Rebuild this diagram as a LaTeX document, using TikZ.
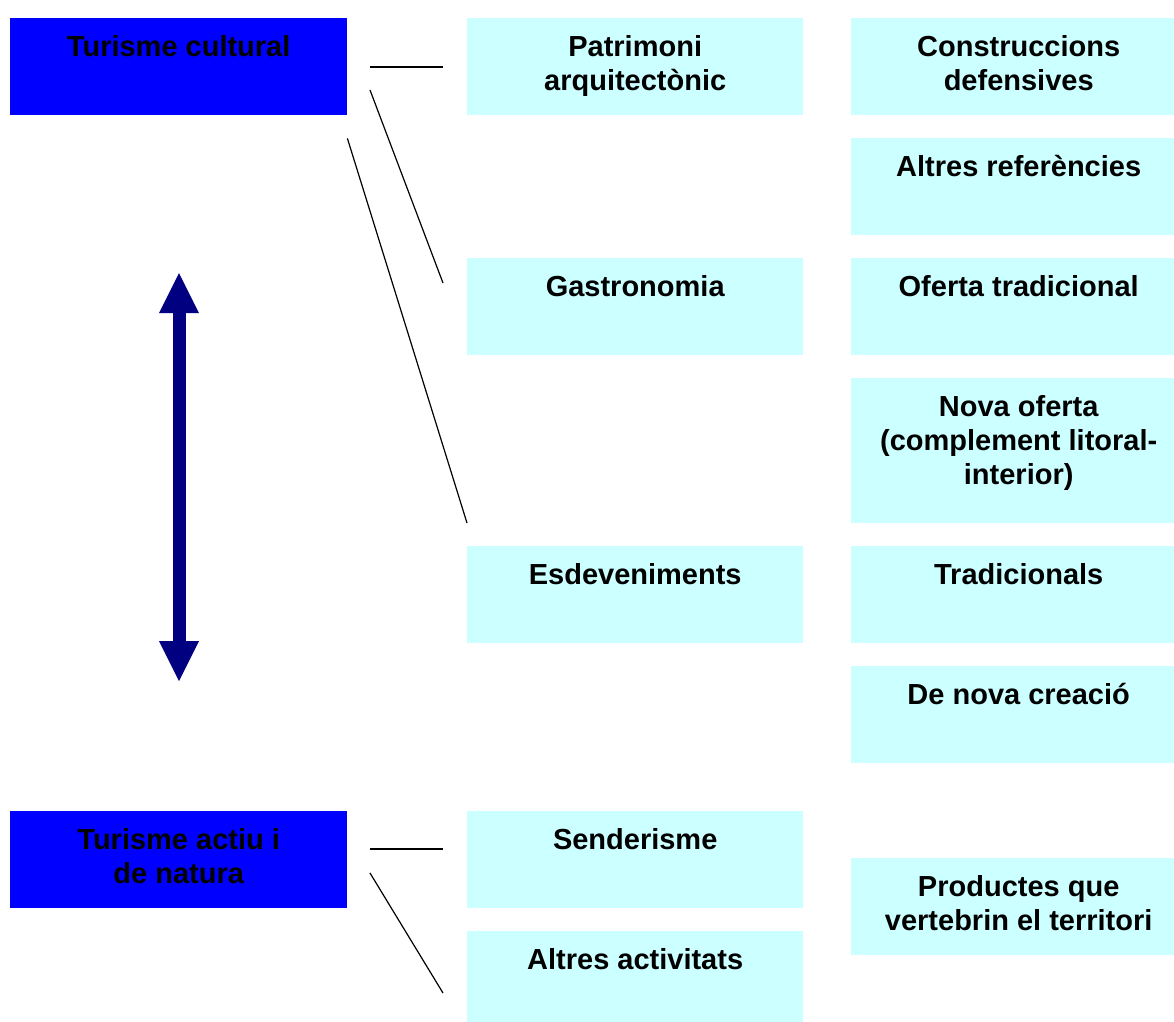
\documentclass[tikz,border=0pt]{standalone}
\usepackage{fontspec}
\setmainfont{Liberation Sans}
\usepackage{xcolor}
\usepackage{tikz}
\usetikzlibrary{arrows.meta,positioning}

\definecolor{themeblue}{RGB}{0,0,255}
\definecolor{lightcyan}{RGB}{204,255,255}
\definecolor{arrownavy}{RGB}{0,0,128}

\begin{document}
\begin{tikzpicture}[x=1pt,y=-1pt,
    box/.style={anchor=north west,inner sep=0pt,minimum height=97pt},
    mainbox/.style={box,fill=themeblue,minimum width=337pt},
    midbox/.style={box,fill=lightcyan,minimum width=336pt},
    rightbox/.style={box,fill=lightcyan,minimum width=323pt},
    boxtext/.style={anchor=north,inner sep=0pt,align=center,
        font=\bfseries\fontsize{29}{34}\selectfont},
    link/.style={line width=1.2pt},
    bigarrow/.style={arrownavy,line width=13pt,
        {Triangle[length=40pt,width=40pt,line width=0pt]}-{Triangle[length=40pt,width=40pt,line width=0pt]}}]

\useasboundingbox (0,0) rectangle (1174,1021);

% left column
\node[mainbox] (cultural) at (10,18) {};
\node[mainbox] (actiu) at (10,811) {};

% middle column
\node[midbox] (patrimoni) at (467,18) {};
\node[midbox] (gastro) at (467,258) {};
\node[midbox] (esdev) at (467,546) {};
\node[midbox] (sender) at (467,811) {};
\node[midbox] (altres) at (467,931) {};

% right column
\node[rightbox] (defensives) at (851,18) {};
\node[rightbox] (referencies) at (851,138) {};
\node[rightbox] (oferta) at (851,258) {};
\node[rightbox,minimum height=145pt] (novaoferta) at (851,378) {};
\node[rightbox] (tradicionals) at (851,546) {};
\node[rightbox] (novacreacio) at (851,666) {};
\node[rightbox] (productes) at (851,858) {};

% texts
\foreach \b/\t in {cultural/{Turisme cultural},
                   actiu/{Turisme actiu i\\de natura},
                   patrimoni/{Patrimoni\\arquitectònic},
                   gastro/Gastronomia,
                   esdev/Esdeveniments,
                   sender/Senderisme,
                   altres/{Altres activitats}}
    \node[boxtext] (\b-txt) at ([yshift=-17pt]\b.north) {\t};

\foreach \b/\t in {defensives/{Construccions\\defensives},
                   referencies/{Altres referències},
                   oferta/{Oferta tradicional},
                   novaoferta/{Nova oferta\\(complement litoral-\\interior)},
                   tradicionals/Tradicionals,
                   novacreacio/{De nova creació},
                   productes/{Productes que\\vertebrin el territori}}
    \node[boxtext] (\b-txt) at ([xshift=6pt,yshift=-17pt]\b.north) {\t};

% connectors
\coordinate (cult-a) at (370,67);
\coordinate (patr-a) at (443,67);
\coordinate (cult-b) at (370,90);
\coordinate (gast-a) at (443,283);
\coordinate (cult-c) at ([yshift=-23pt]cultural.south east);
\coordinate (esde-a) at ([yshift=23pt]esdev.north west);
\coordinate (actiu-a) at (370,849);
\coordinate (send-a) at (443,849);
\coordinate (actiu-b) at (370,873);
\coordinate (altr-a) at (443,993);

\draw[link] (cult-a) -- (patr-a);
\draw[link] (cult-b) -- (gast-a);
\draw[link] (cult-c) -- (esde-a);
\draw[link] (actiu-a) -- (send-a);
\draw[link] (actiu-b) -- (altr-a);

% double arrow
\coordinate (uptip) at (179,273);
\coordinate (downtip) at (179,681);
\draw[bigarrow] (uptip) -- (downtip);

\end{tikzpicture}
\end{document}
